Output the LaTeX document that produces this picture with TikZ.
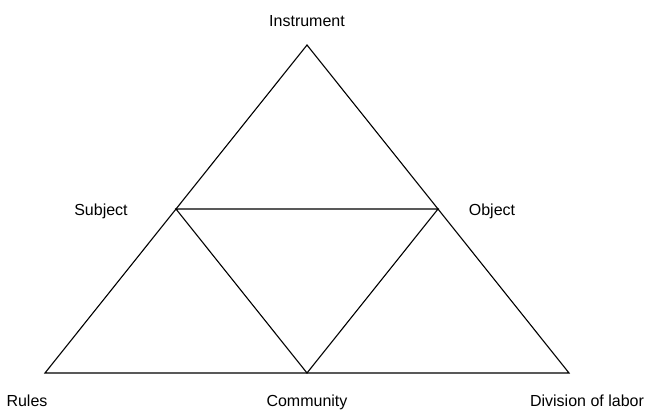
\documentclass[tikz,border=0pt]{standalone}
\usepackage{fontspec}
\setmainfont{Liberation Sans}
\usetikzlibrary{positioning,calc}

\begin{document}
\begin{tikzpicture}[x=1pt, y=-1pt, line width=1.1pt,
    lbl/.style={font=\fontsize{16}{18}\selectfont, anchor=base, inner sep=0pt}]

  \useasboundingbox (0,0) rectangle (649,410);

  \coordinate (T) at (307,45);
  \coordinate (L) at (45,373);
  \coordinate (R) at (569,373);
  \coordinate (ML) at ($(T)!0.5!(L)$);
  \coordinate (MR) at ($(T)!0.5!(R)$);
  \coordinate (MB) at ($(L)!0.5!(R)$);

  \node (I) [lbl] at (307,26) {Instrument};
  \node (S) [lbl] at (101,215) {Subject};
  \node (O) [lbl] at (492,215) {Object};
  \node (Ru) [lbl] at (27,406) {Rules};
  \node (C) [lbl] at (307,406) {Community};
  \node (D) [lbl] at (587,406) {Division of labor};

  \draw (T) -- (L) -- (R) -- cycle;
  \draw (ML) -- (MR) -- (MB) -- cycle;

\end{tikzpicture}
\end{document}
